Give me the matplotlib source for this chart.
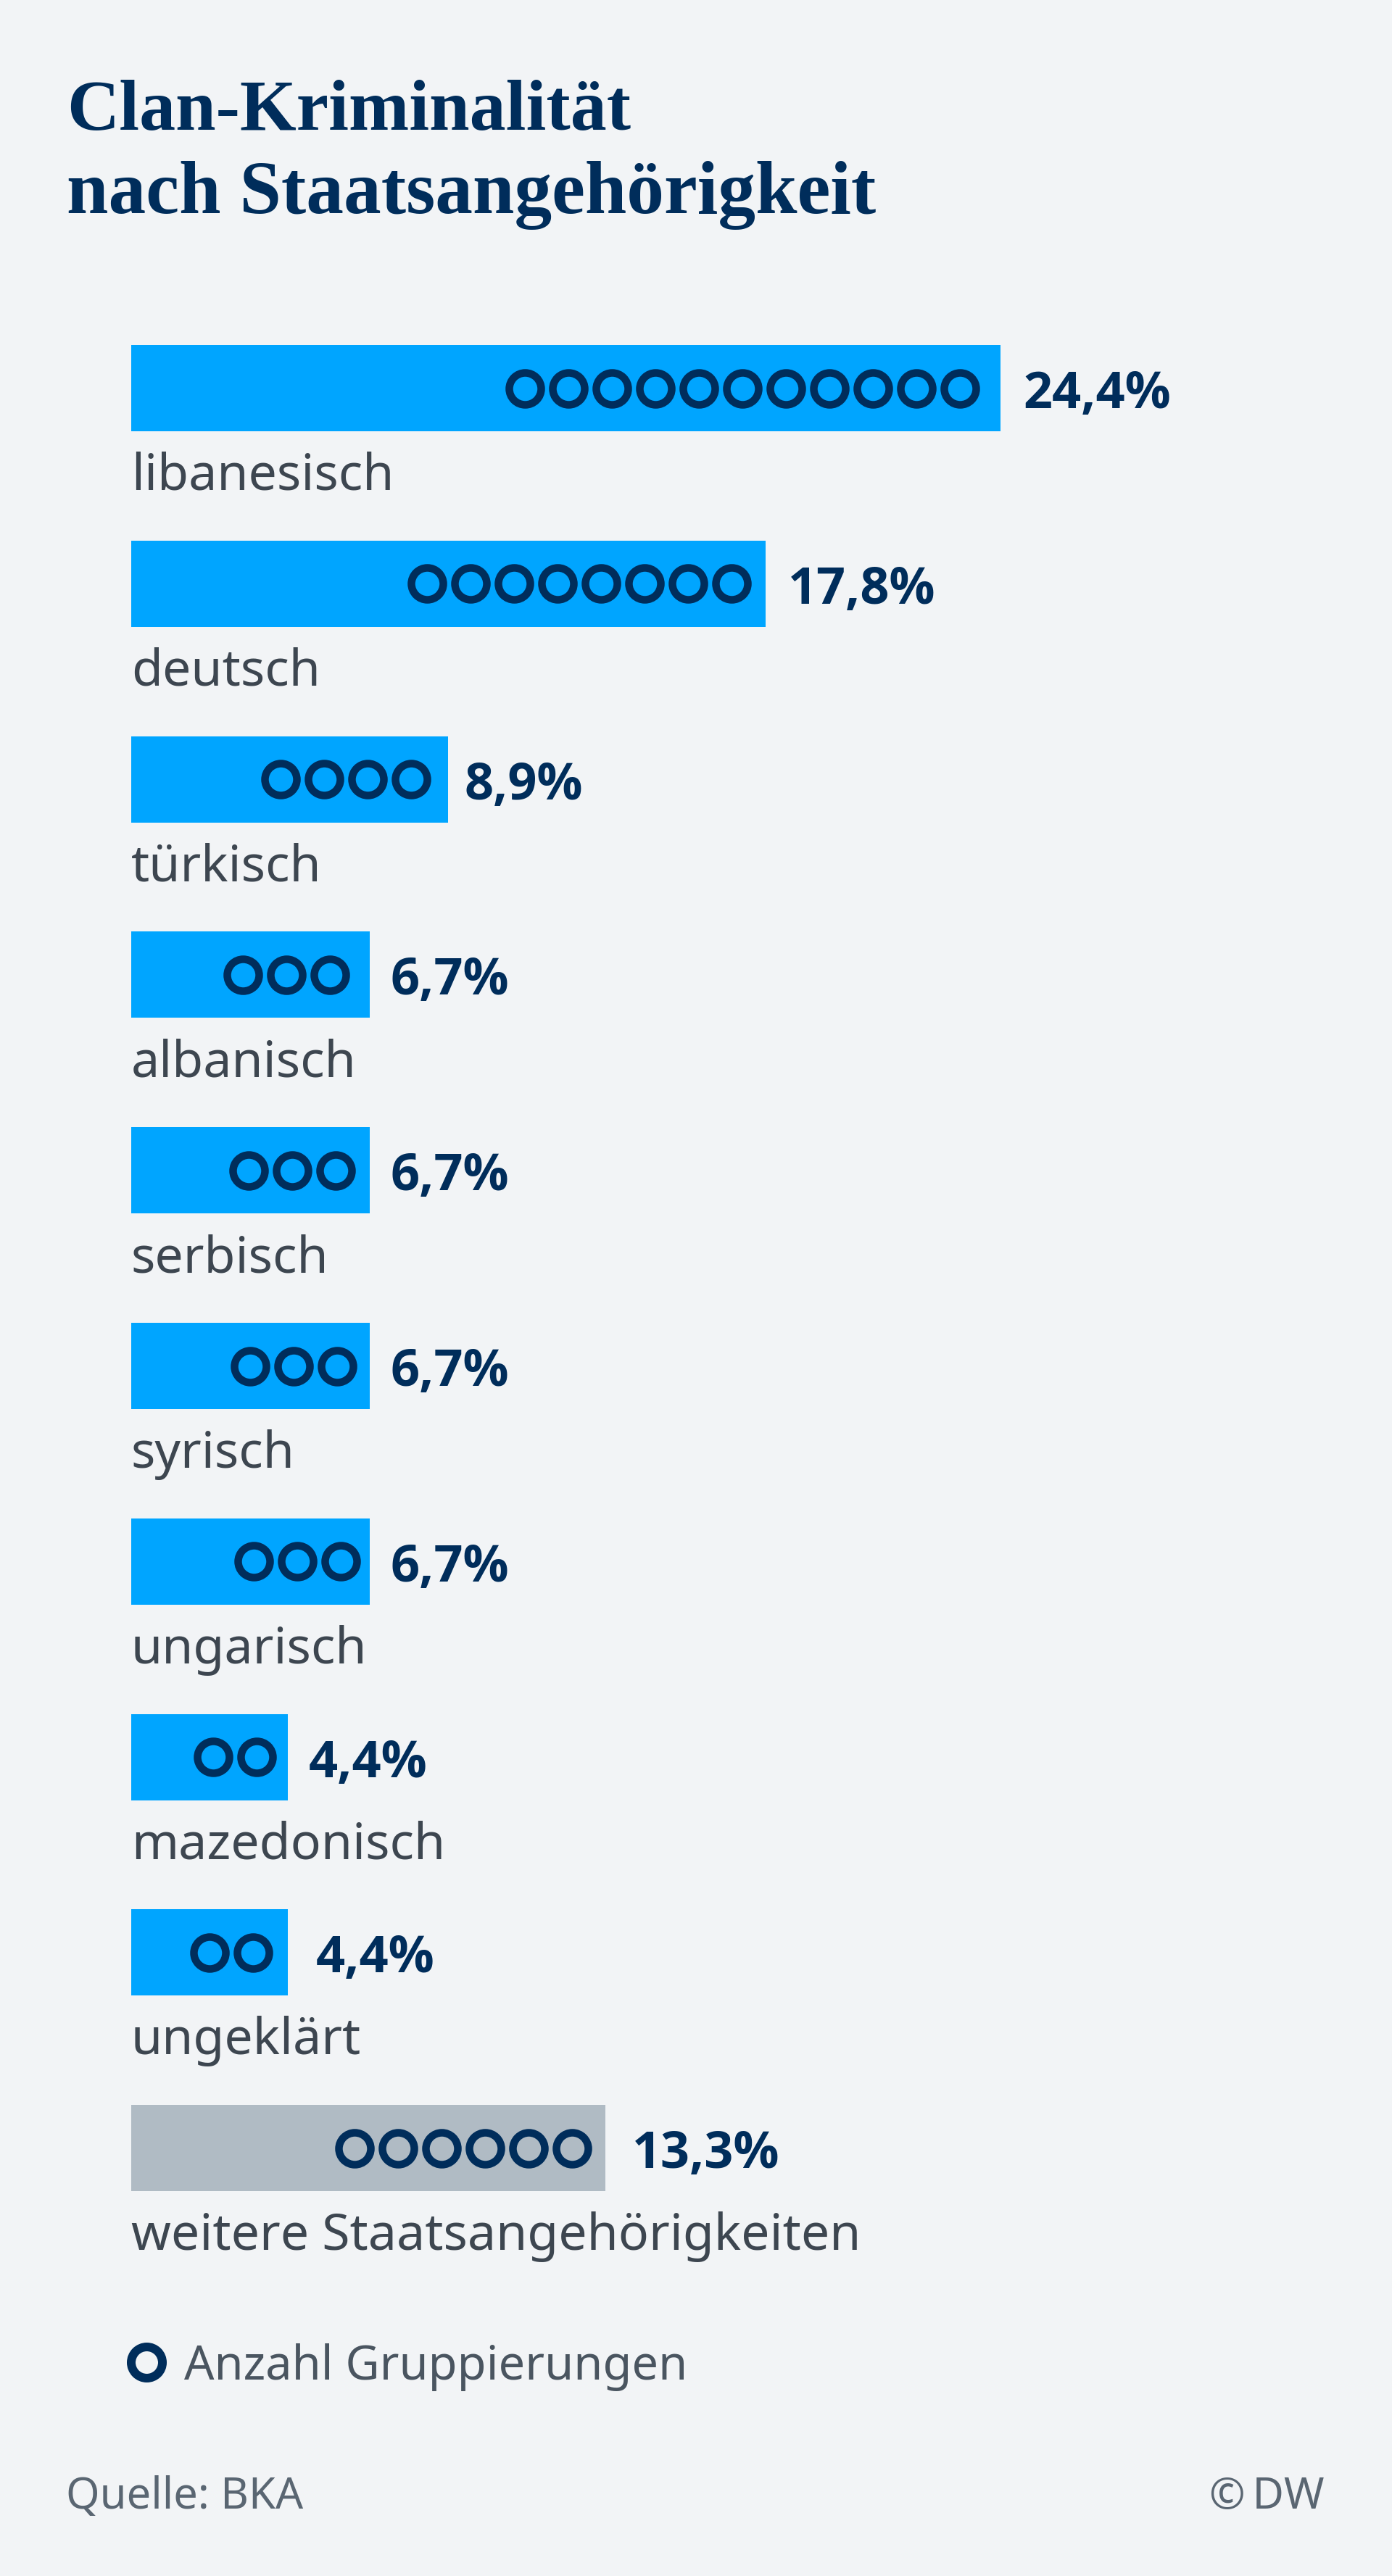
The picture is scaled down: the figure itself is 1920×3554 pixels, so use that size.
import matplotlib
matplotlib.use("Agg")
import matplotlib.pyplot as plt

# Daten
kategorien = ["libanesisch", "deutsch", "türkisch", "albanisch", "serbisch",
              "syrisch", "ungarisch", "mazedonisch", "ungeklärt",
              "weitere Staatsangehörigkeiten"]
anteile = [24.4, 17.8, 8.9, 6.7, 6.7, 6.7, 6.7, 4.4, 4.4, 13.3]
anteil_texte = ["24,4%", "17,8%", "8,9%", "6,7%", "6,7%", "6,7%", "6,7%", "4,4%", "4,4%", "13,3%"]
gruppierungen = [11, 8, 4, 3, 3, 3, 3, 2, 2, 6]

# Layout (Pixel)
BREITE, HOEHE = 1920, 3555
X0 = 181
PX_PRO_PROZENT = 49.14
ZEILE_Y0 = 536.5
ZEILE_ABSTAND = 269.8
BALKEN_H = 119
KREIS_ABSTAND = 60
# Abstand Balkenende -> rechter Kreis, Balkenende -> Wert
kreis_einzug = [56, 47, 51, 55, 47, 45, 40, 43, 48, 46]
wert_abstand = [31, 31, 22, 28, 28, 28, 28, 29, 39, 37]

BLAU = "#00A5FF"
GRAU = "#B0BBC4"
DUNKEL = "#002D5B"
HG = "#F2F4F6"

plt.rcParams["font.family"] = ["Noto Sans", "DejaVu Sans"]

fig = plt.figure(figsize=(BREITE / 100, HOEHE / 100), dpi=100, facecolor=HG)
ax = fig.add_axes([0, 0, 1, 1])
ax.set_xlim(-X0 / PX_PRO_PROZENT, (BREITE - X0) / PX_PRO_PROZENT)
ax.set_ylim((HOEHE - ZEILE_Y0) / ZEILE_ABSTAND, -ZEILE_Y0 / ZEILE_ABSTAND)
ax.axis("off")


def px(x, y):
    return x / BREITE, 1 - y / HOEHE


farben = [BLAU] * 9 + [GRAU]
ax.barh(range(len(anteile)), anteile, height=BALKEN_H / ZEILE_ABSTAND, color=farben, linewidth=0)

for i, (wert, anzahl) in enumerate(zip(anteile, gruppierungen)):
    rechts = wert - kreis_einzug[i] / PX_PRO_PROZENT
    xs = [rechts - k * KREIS_ABSTAND / PX_PRO_PROZENT for k in range(anzahl)]
    ax.plot(xs, [i] * anzahl, linestyle="none", marker="o", markersize=44 * 0.72,
            markerfacecolor="none", markeredgecolor=DUNKEL, markeredgewidth=10.5 * 0.72)
    # Wert und Name
    ax.text(wert + wert_abstand[i] / PX_PRO_PROZENT, i + (86 - BALKEN_H / 2) / ZEILE_ABSTAND,
            anteil_texte[i], fontsize=50.5, family=["Open Sans", "DejaVu Sans"], fontweight="bold",
            color=DUNKEL, va="baseline")
    ax.text(0, i + (199 - BALKEN_H / 2) / ZEILE_ABSTAND, kategorien[i],
            fontsize=50.3, color="#3D4650", va="baseline")

# Titel
titel_font = dict(family=["Liberation Serif", "DejaVu Serif"], fontweight="bold", color=DUNKEL)
fig.text(*px(92, 179), "Clan-Kriminalität", va="baseline", fontsize=72, **titel_font)
fig.text(*px(92, 294), "nach Staatsangehörigkeit", va="baseline", fontsize=74.3, **titel_font)

# Legende
fig.add_artist(plt.Line2D([202 / BREITE], [1 - 3260 / HOEHE], marker="o", markersize=43 * 0.72,
                          markerfacecolor="none", markeredgecolor=DUNKEL, markeredgewidth=12 * 0.72,
                          linestyle="none"))
fig.text(*px(254, 3283), "Anzahl Gruppierungen", fontsize=46.8, color="#4A5560", va="baseline")

# Fusszeile
fig.text(*px(91, 3461), "Quelle: BKA", fontsize=43, color="#5A6672", va="baseline")
fig.text(*px(1827, 3461), "©\u2009DW", fontsize=43, color="#5A6672", va="baseline", ha="right")

fig.savefig("out.png", dpi=100, facecolor=HG)
